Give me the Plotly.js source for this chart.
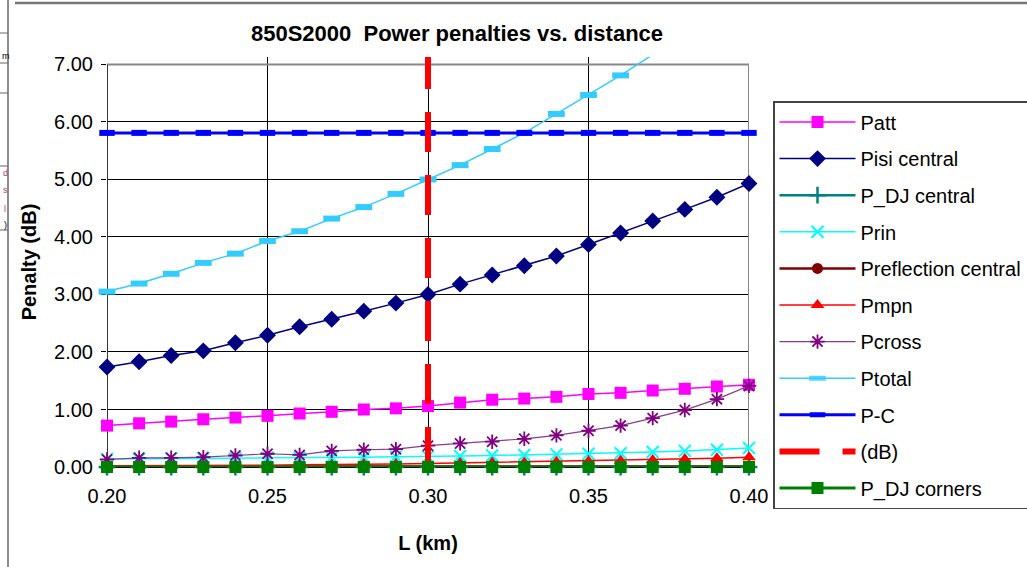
<!DOCTYPE html>
<html>
<head>
<meta charset="utf-8">
<script src="https://cdn.plot.ly/plotly-3.0.1.min.js"></script>
<style>html,body{margin:0;padding:0;background:#fff;}#chart{width:1027px;height:567px;}</style>
</head>
<body>
<div id="chart"></div>
<script>
// ---- data ----
var L_km = [0.20,0.21,0.22,0.23,0.24,0.25,0.26,0.27,0.28,0.29,0.30,0.31,0.32,0.33,0.34,0.35,0.36,0.37,0.38,0.39,0.40];
var Patt = [0.72,0.76,0.79,0.83,0.86,0.89,0.93,0.96,1.00,1.02,1.06,1.12,1.17,1.19,1.22,1.27,1.29,1.33,1.36,1.40,1.43];
var PisiCentral = [1.74,1.83,1.94,2.02,2.16,2.29,2.44,2.57,2.71,2.85,3.00,3.18,3.34,3.50,3.67,3.87,4.07,4.28,4.48,4.69,4.93];
var PDJCentral = [0.00,0.00,0.00,0.00,0.00,0.00,0.00,0.00,0.00,0.00,0.00,0.00,0.00,0.00,0.00,0.00,0.00,0.00,0.00,0.00,0.00];
var Prin = [0.14,0.14,0.15,0.15,0.15,0.16,0.16,0.17,0.17,0.18,0.18,0.19,0.20,0.21,0.22,0.23,0.24,0.26,0.28,0.30,0.33];
var PreflectionCentral = [0.01,0.01,0.01,0.01,0.01,0.01,0.01,0.01,0.01,0.01,0.01,0.01,0.01,0.01,0.01,0.01,0.01,0.01,0.01,0.01,0.01];
var Pmpn = [0.02,0.02,0.02,0.03,0.03,0.03,0.04,0.04,0.05,0.05,0.06,0.07,0.08,0.08,0.09,0.10,0.11,0.12,0.14,0.15,0.17];
var Pcross = [0.13,0.16,0.16,0.17,0.20,0.23,0.21,0.28,0.30,0.31,0.37,0.41,0.44,0.49,0.55,0.63,0.72,0.85,0.99,1.18,1.41];
var Ptotal = [3.05,3.19,3.36,3.55,3.71,3.93,4.10,4.32,4.52,4.75,5.00,5.25,5.53,5.81,6.14,6.47,6.81,7.17,7.55,7.95,8.38];
var PC = [5.81,5.81,5.81,5.81,5.81,5.81,5.81,5.81,5.81,5.81,5.81,5.81,5.81,5.81,5.81,5.81,5.81,5.81,5.81,5.81,5.81];
var dB_x = [0.30,0.30];
var dB_y = [0.00,7.13];
var PDJCorners = [0.00,0.00,0.00,0.00,0.00,0.00,0.00,0.00,0.00,0.00,0.00,0.00,0.00,0.00,0.00,0.00,0.00,0.00,0.00,0.00,0.00];
var xTicks = [0.20,0.25,0.30,0.35,0.40];
var yTicks = [0,1,2,3,4,5,6,7];

var chartTitle = '850S2000  Power penalties vs. distance';
var xTitle = 'L (km)';
var yTitle = 'Penalty (dB)';

// ---- layout geometry (pixels) ----
var W = 1027, H = 567;
var PL = 107, PR = 749, PT = 57, PB = 467;
var YMAX = 7.13, YTOP = 7;
function px2paperX(px){ return (px - PL) / (PR - PL); }
function px2paperY(py){ return (PB - py) / (PB - PT); }

var FONT = 'Liberation Sans, Arial, sans-serif';

function tr(name, y, color, lw, sym, msize, extra){
  var t = {
    type: 'scatter', mode: 'lines+markers', name: name, x: L_km, y: y,
    legendgroup: name, cliponaxis: false,
    line: {color: color, width: lw},
    marker: {symbol: sym, size: msize, color: color, line: {color: color, width: 0}}
  };
  if (extra) extra(t);
  return t;
}

var traces = [
  tr('Patt', Patt, '#FF00FF', 1.5, 'square', 12),
  tr('Pisi central', PisiCentral, '#000080', 1.5, 'diamond', 13),
  tr('P_DJ central', PDJCentral, '#008080', 2.5, 'cross-thin', 12, function(t){ t.marker.line = {color:'#008080', width:2.5}; }),
  tr('Prin', Prin, '#00FFFF', 1.5, 'x-thin', 12, function(t){ t.marker.line = {color:'#00FFFF', width:2}; }),
  tr('Preflection central', PreflectionCentral, '#800000', 2.5, 'circle', 11),
  tr('Pmpn', Pmpn, '#FF0000', 1.5, 'triangle-up', 12),
  tr('Pcross', Pcross, '#800080', 1.2, 'asterisk-open', 12, function(t){ t.marker.line = {color:'#800080', width:1.8}; t.line.color = '#8a3a8e'; }),
  tr('Ptotal', Ptotal, '#33CCFF', 1.5, 'line-ew-open', 12, function(t){
    t.marker.line = {color:'#00CCFF', width:6};
    t.marker.opacity = Ptotal.map(function(v){ return v > YMAX ? 0 : 1; });
  }),
  tr('P-C', PC, '#0000FF', 3, 'line-ew-open', 11, function(t){ t.marker.line = {color:'#0000FF', width:6}; }),
  {type:'scatter', mode:'lines', name:'(dB)', x: dB_x, y: dB_y, legendgroup:'(dB)',
   line:{color:'#FF0000', width:6, dash:'40px,23px'}},
  tr('P_DJ corners', PDJCorners, '#008000', 3, 'square', 12)
];

var shapes = [
  // plot area frame (gray)
  {type:'rect', xref:'x', yref:'y', x0:0.2, x1:0.4, y0:0, y1:YTOP, layer:'between',
   line:{color:'#888888', width:2}},
  // y axis line (black)
  {type:'line', xref:'x', yref:'y', x0:0.2, x1:0.2, y0:0, y1:YTOP, layer:'between',
   line:{color:'#000000', width:1.2}},
  // outer chart border top
  {type:'line', xref:'paper', yref:'paper', x0:px2paperX(15), x1:px2paperX(1027), y0:px2paperY(3), y1:px2paperY(3),
   line:{color:'#777777', width:2.5}},
  // spreadsheet fragments at the left
  {type:'line', xref:'paper', yref:'paper', x0:px2paperX(8), x1:px2paperX(8), y0:px2paperY(0), y1:px2paperY(567),
   line:{color:'#666666', width:1.5}},
  {type:'line', xref:'paper', yref:'paper', x0:px2paperX(0), x1:px2paperX(8), y0:px2paperY(33), y1:px2paperY(33),
   line:{color:'#666666', width:1}},
  {type:'line', xref:'paper', yref:'paper', x0:px2paperX(0), x1:px2paperX(8), y0:px2paperY(63), y1:px2paperY(63),
   line:{color:'#666666', width:1}},
  {type:'line', xref:'paper', yref:'paper', x0:px2paperX(0), x1:px2paperX(8), y0:px2paperY(93), y1:px2paperY(93),
   line:{color:'#666666', width:1}},
  {type:'line', xref:'paper', yref:'paper', x0:px2paperX(0), x1:px2paperX(8), y0:px2paperY(166), y1:px2paperY(166),
   line:{color:'#666666', width:1}},
  {type:'line', xref:'paper', yref:'paper', x0:px2paperX(0), x1:px2paperX(8), y0:px2paperY(230), y1:px2paperY(230),
   line:{color:'#666666', width:1}}
];

function ann(text, px, py, color){
  return {text:text, xref:'paper', yref:'paper', x:px2paperX(px), y:px2paperY(py),
          xanchor:'left', yanchor:'middle', showarrow:false,
          font:{family:FONT, size:9, color:color}};
}
var annotations = [
  ann('m', 0, 56, '#000000'),
  ann('d', 1, 173, '#b0407a'),
  ann('s', 1, 190, '#b0407a'),
  ann('l', 2, 209, '#b0407a'),
  ann(')', 2, 225, '#000000')
];

var layout = {
  width: W, height: H,
  margin: {l: PL, r: W - PR, t: PT, b: H - PB, pad: 0},
  paper_bgcolor: '#ffffff', plot_bgcolor: '#ffffff',
  font: {family: FONT, color: '#000000', size: 20},
  title: {text: '<b>' + chartTitle + '</b>', xref:'container', yref:'container',
          x: 457/W, y: 1 - 33/H, xanchor:'center', yanchor:'middle',
          font:{family: FONT, size: 22, color:'#000000'}},
  showlegend: true,
  legend: {xref:'container', yref:'container', x: 773/W, y: 1 - 101/H,
           xanchor:'left', yanchor:'top', bgcolor:'#ffffff', bordercolor:'#444444', borderwidth:1.5,
           font:{family: FONT, size: 20, color:'#000000'}, itemwidth: 76, maxheight: 500,
           traceorder:'grouped', tracegroupgap: 7.6, itemclick:false},
  xaxis: {range:[0.2, 0.4], tickvals: xTicks, tickformat:'.2f', showgrid:true, gridcolor:'#000000', gridwidth:1,
          zeroline:false, showline:true, linecolor:'#000000', linewidth:1, ticks:'outside', ticklen:5,
          tickcolor:'#000000', layer:'below traces', tickfont:{family:FONT, size:20}, ticklabelstandoff: 6,
          title:{text:'<b>' + xTitle + '</b>', font:{family:FONT, size:20}, standoff: 29}},
  yaxis: {range:[0, YMAX], tickvals: yTicks, tickformat:'.2f', showgrid:true, gridcolor:'#000000', gridwidth:1,
          zeroline:false, showline:false, ticks:'outside', ticklen:5, tickcolor:'#000000',
          layer:'below traces', tickfont:{family:FONT, size:20}, ticklabelstandoff: 4,
          title:{text:'<b>' + yTitle + '</b>', font:{family:FONT, size:20}, standoff: 12}},
  shapes: shapes,
  annotations: annotations
};

Plotly.newPlot('chart', traces, layout, {displayModeBar:false, staticPlot:true});
</script>
</body>
</html>
